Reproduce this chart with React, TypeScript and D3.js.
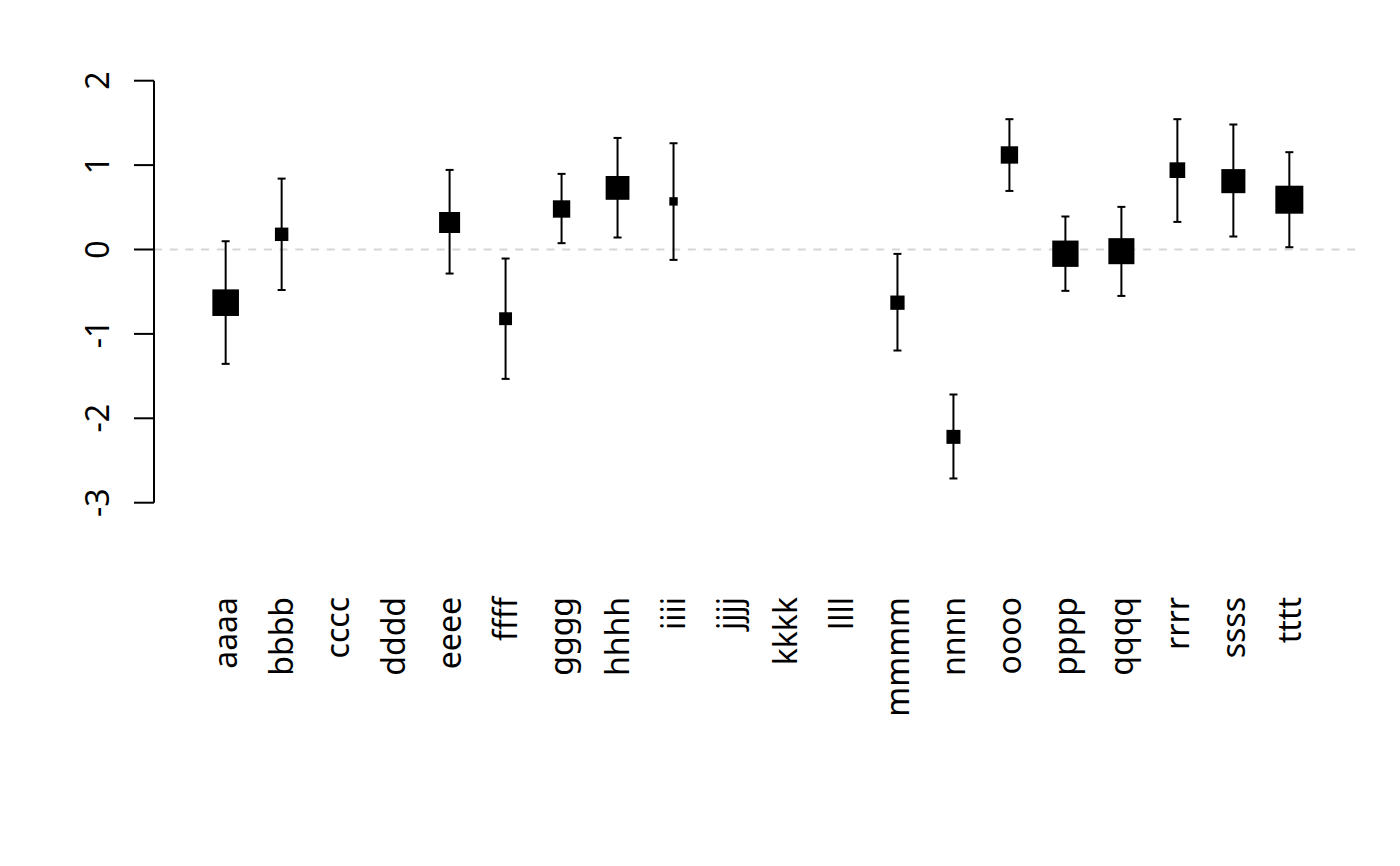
import React from "react";
import * as d3 from "d3";

const categories = ["aaaa","bbbb","cccc","dddd","eeee","ffff","gggg","hhhh","iiii","jjjj","kkkk","llll","mmmm","nnnn","oooo","pppp","qqqq","rrrr","ssss","tttt"];
const estimates: (number | null)[] = [-0.63, 0.18, null, null, 0.32, -0.82, 0.48, 0.73, 0.57, null, null, null, -0.63, -2.22, 1.12, -0.05, -0.02, 0.94, 0.81, 0.59];
const lower: (number | null)[] = [-1.355, -0.48, null, null, -0.285, -1.533, 0.075, 0.142, -0.123, null, null, null, -1.197, -2.713, 0.694, -0.49, -0.55, 0.327, 0.154, 0.027];
const upper: (number | null)[] = [0.098, 0.84, null, null, 0.943, -0.107, 0.896, 1.322, 1.259, null, null, null, -0.052, -1.718, 1.544, 0.391, 0.505, 1.544, 1.481, 1.153];
const weights: (number | null)[] = [0.95, 0.48, null, null, 0.75, 0.46, 0.62, 0.85, 0.30, null, null, null, 0.51, 0.50, 0.62, 0.94, 0.93, 0.56, 0.86, 1.0];
const yTicks = [2, 1, 0, -1, -2, -3];

const W = 1400, H = 866;
const FONT = "'Noto Sans', 'Open Sans', sans-serif";

export default function App() {
  const x = d3.scalePoint<string>().domain(categories).range([154, 1361]).padding(1.28);
  const y = d3.scaleLinear().domain([-3, 2]).range([502.7, 80.7]);
  const size = d3.scaleLinear().domain([0, 1]).range([0, 28]);
  const cap = 4;
  const labelY = 597;

  const rows = categories.map((c, i) => ({ c, est: estimates[i], lo: lower[i], hi: upper[i], w: weights[i] }));

  return (
    <svg width={W} height={H} style={{ position: "absolute", left: 0, top: 0, background: "#fff" }} fontFamily={FONT}>
      <rect width={W} height={H} fill="#fff" />
      {/* zero reference line */}
      <line x1={154} x2={1362} y1={y(0)} y2={y(0)} stroke="#d6d6d6" strokeWidth={2} strokeDasharray="8 7.7" />
      {/* y axis */}
      <line x1={154} x2={154} y1={y(2)} y2={y(-3)} stroke="#000" strokeWidth={2} />
      {yTicks.map((t) => (
        <g key={t}>
          <line x1={134} x2={154} y1={y(t)} y2={y(t)} stroke="#000" strokeWidth={2} />
          <text transform={`translate(108.5,${y(t)}) rotate(-90)`} textAnchor="middle" fontSize={32} fill="#000">
            {t < 0 ? `-${Math.abs(t)}` : t}
          </text>
        </g>
      ))}
      {/* x labels */}
      {categories.map((c) => (
        <text key={c} transform={`translate(${(x(c) as number) + 11.5},${labelY}) rotate(-90)`} textAnchor="end" fontSize={32} fill="#000">
          {c}
        </text>
      ))}
      {/* error bars and points */}
      {rows.filter((r) => r.est !== null).map((r) => {
        const cx = x(r.c) as number;
        const s = size(r.w as number);
        return (
          <g key={r.c}>
            <line x1={cx} x2={cx} y1={y(r.lo as number)} y2={y(r.hi as number)} stroke="#000" strokeWidth={2} />
            <line x1={cx - cap} x2={cx + cap} y1={y(r.lo as number)} y2={y(r.lo as number)} stroke="#000" strokeWidth={2} />
            <line x1={cx - cap} x2={cx + cap} y1={y(r.hi as number)} y2={y(r.hi as number)} stroke="#000" strokeWidth={2} />
            <rect x={cx - s / 2} y={y(r.est as number) - s / 2} width={s} height={s} fill="#000" />
          </g>
        );
      })}
    </svg>
  );
}
